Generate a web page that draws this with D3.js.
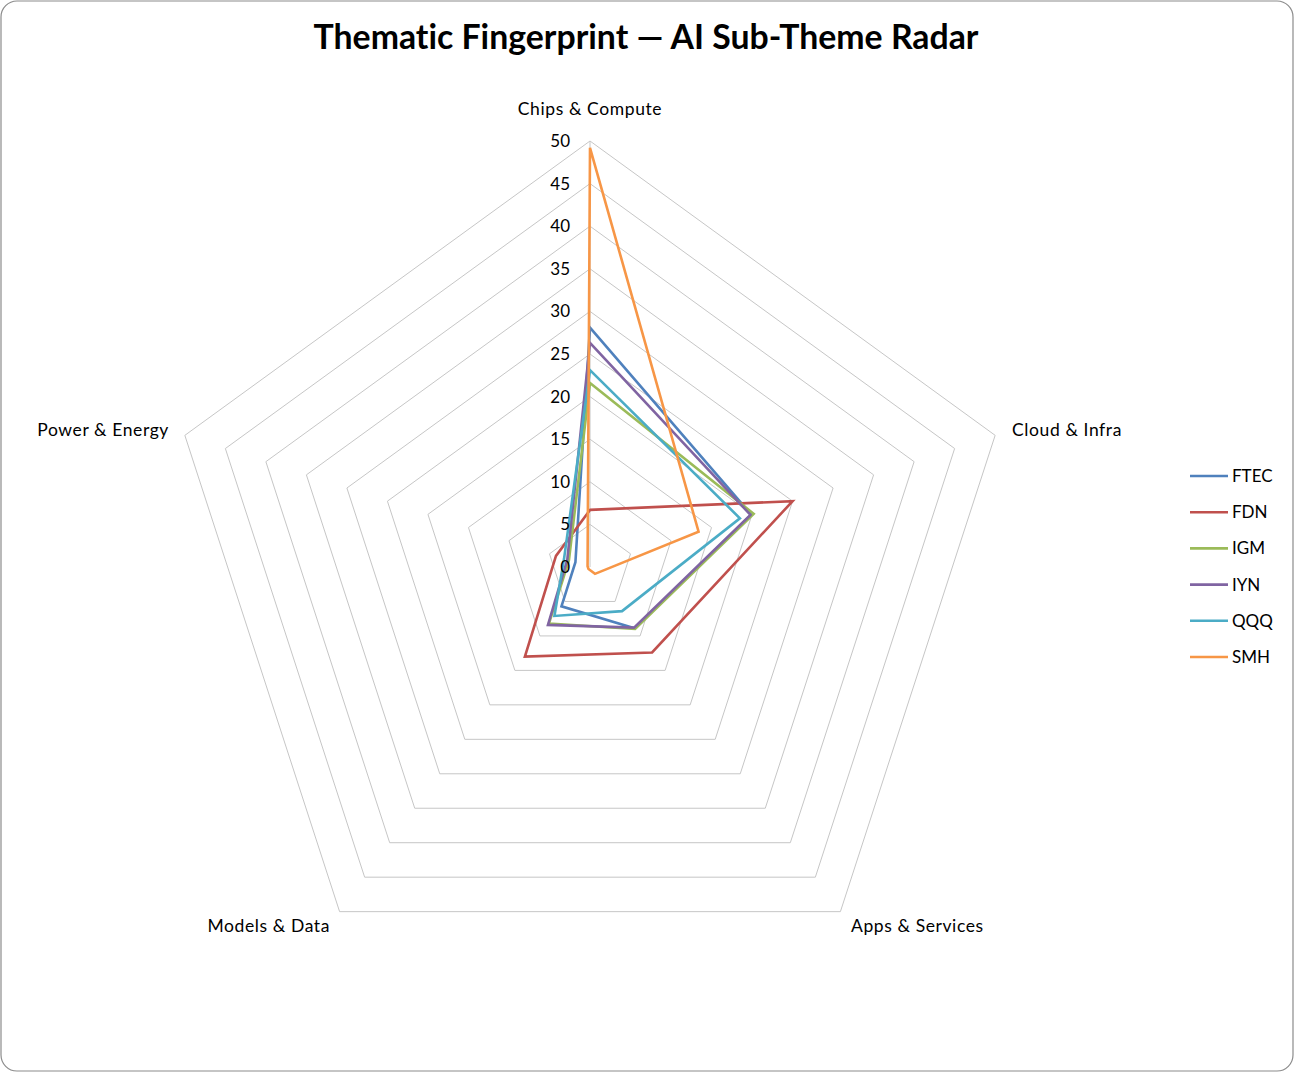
<!DOCTYPE html>
<html><head><meta charset="utf-8">
<script src="https://cdn.jsdelivr.net/npm/d3@7/dist/d3.min.js"></script>
<style>
html,body{margin:0;padding:0;background:#fff;}
svg{display:block;}
text{font-family:Lato,"Open Sans",sans-serif;fill:#000;font-variant-ligatures:none;font-feature-settings:"liga" 0,"dlig" 0;}
</style></head>
<body>
<svg id="chart" width="1294" height="1072"></svg>
<script>
const title = "Thematic Fingerprint — AI Sub-Theme Radar";
const categories = ["Chips & Compute","Cloud & Infra","Apps & Services","Models & Data","Power & Energy"];
const seriesNames = ["FTEC","FDN","IGM","IYN","QQQ","SMH"];
const FTEC = [28.1, 19.9, 8.9, 5.7, 1.8];
const FDN  = [6.7, 25.0, 12.4, 13.0, 4.2];
const IGM  = [21.6, 20.2, 9.0, 8.2, 2.6];
const IYN  = [26.3, 19.8, 8.8, 8.4, 2.8];
const QQQ  = [23.1, 18.5, 6.4, 7.1, 3.2];
const SMH  = [49.2, 13.4, 1.0, 0.3, 0.3];
const seriesValues = [FTEC, FDN, IGM, IYN, QQQ, SMH];
const tickValues = [0,5,10,15,20,25,30,35,40,45,50];
const colors = ["#4F81BD","#C0504D","#9BBB59","#8064A2","#4BACC6","#F79646"];

const svg = d3.select("#chart");
const W = 1294, H = 1072;
svg.append("rect").attr("x",1).attr("y",1).attr("width",W-2).attr("height",H-2)
  .attr("rx",16).attr("fill","#fff").attr("stroke","#8c8c8c").attr("stroke-width",1.2);

svg.append("text").attr("x",646).attr("y",49).attr("text-anchor","middle")
  .style("font-size","33.8px").style("font-weight","bold").text(title);

const cx = 590, cy = 567;
const r = d3.scaleLinear().domain([0,50]).range([0,426]);
const n = categories.length;
const ang = i => -Math.PI/2 + i*2*Math.PI/n;
const pt = (i,v) => [cx + r(v)*Math.cos(ang(i)), cy + r(v)*Math.sin(ang(i))];

const g = svg.append("g");
// grid pentagons
tickValues.filter(t=>t>0).forEach(t=>{
  g.append("path").attr("d", d3.line()(d3.range(n).map(i=>pt(i,t))) + "Z")
   .attr("fill","none").attr("stroke","#c6c6c6").attr("stroke-width",1);
});
// value axis
g.append("line").attr("x1",cx).attr("y1",cy).attr("x2",cx).attr("y2",cy-r(50))
  .attr("stroke","#c6c6c6").attr("stroke-width",1);

// series
seriesValues.forEach((vals,si)=>{
  g.append("path").attr("d", d3.line()(vals.map((v,i)=>pt(i,v))) + "Z")
   .attr("fill","none").attr("stroke",colors[si]).attr("stroke-width",2.6)
   .attr("stroke-linejoin","miter");
});

// tick labels
tickValues.forEach(t=>{
  svg.append("text").attr("x",cx-20).attr("y",cy - r(t) + 6).attr("text-anchor","end")
    .style("font-size","17px").text(t);
});

// category labels
const catPos = [
  {x:590,y:115,a:"middle"},
  {x:1012,y:436,a:"start"},
  {x:851,y:932,a:"start"},
  {x:330,y:932,a:"end"},
  {x:169,y:436,a:"end"}
];
categories.forEach((c,i)=>{
  svg.append("text").attr("x",catPos[i].x).attr("y",catPos[i].y).attr("text-anchor",catPos[i].a)
    .style("font-size","17.5px").style("letter-spacing","0.6px").text(c);
});

// legend
seriesNames.forEach((s,i)=>{
  const y = 476 + i*36.2;
  svg.append("line").attr("x1",1190).attr("x2",1228).attr("y1",y).attr("y2",y)
    .attr("stroke",colors[i]).attr("stroke-width",2.6);
  svg.append("text").attr("x",1232).attr("y",y+6).style("font-size","17px").text(s);
});
</script>
</body></html>
